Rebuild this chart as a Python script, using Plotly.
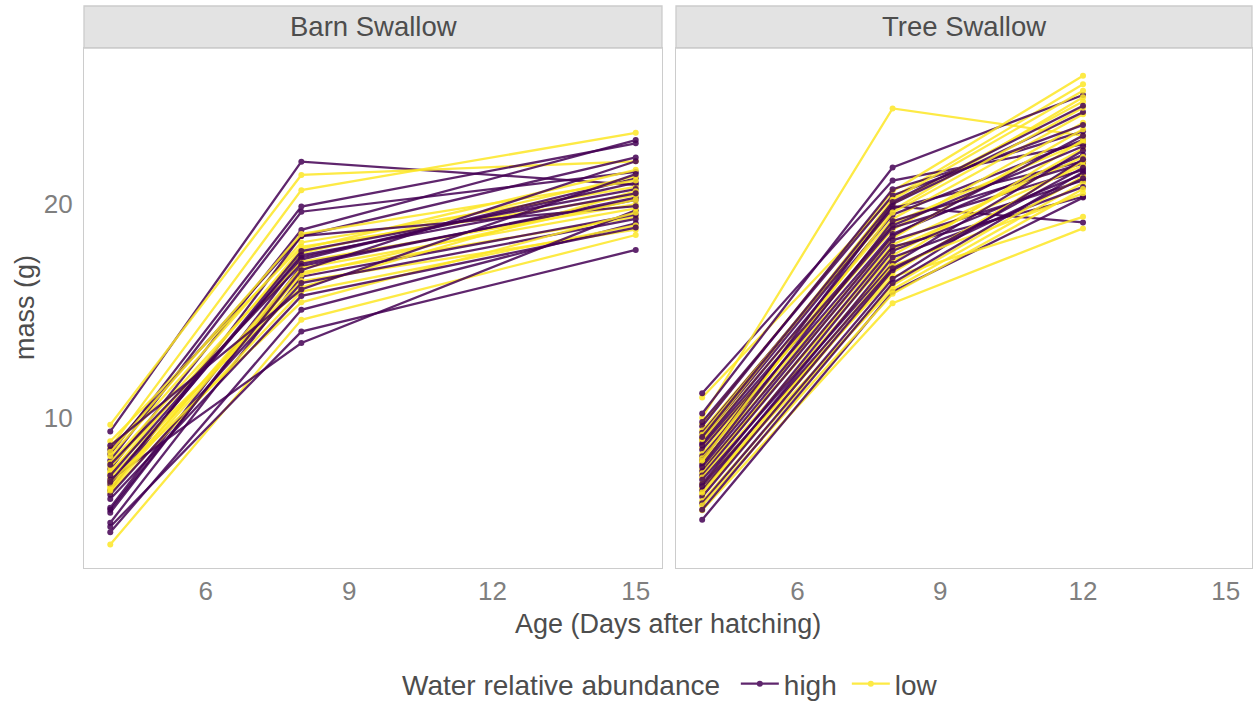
import plotly.graph_objects as go

# ---------------- data ----------------
barn_ages = [4, 8, 15]
tree_ages = [4, 8, 12]

# Barn Swallow, high water abundance (mass at day 4, 8, 15)
barn_high_d4 = [9.36, 8.3, 8.0, 7.6, 6.6, 5.79, 5.56, 5.09, 4.64, 4.9, 7.1, 6.9, 7.3, 8.5, 6.4, 7.8, 8.7, 6.2, 7.0, 5.7]
barn_high_d8 = [21.98, 19.88, 19.64, 18.79, 18.5, 17.4, 17.1, 16.6, 15.05, 14.03, 13.5, 17.8, 17.5, 18.5, 16.3, 17.2, 16.0, 15.7, 17.6, 16.9]
barn_high_d15 = [20.9, 22.84, 21.5, 22.99, 22.18, 21.2, 20.3, 19.5, 19.1, 17.85, 19.7, 20.7, 21.0, 19.9, 19.3, 20.2, 21.4, 18.9, 20.5, 22.0]

# Barn Swallow, low water abundance
barn_low_d4 = [9.67, 8.6, 4.07, 8.2, 7.4, 7.7, 6.8, 7.2, 8.9, 6.5, 7.9, 7.5, 6.7, 8.4, 7.0, 6.6]
barn_low_d8 = [21.36, 20.65, 14.58, 18.2, 17.9, 17.3, 16.8, 16.4, 18.0, 15.9, 17.7, 16.1, 17.0, 18.6, 15.4, 16.7]
barn_low_d15 = [22.0, 23.33, 18.55, 20.8, 21.6, 20.0, 19.4, 18.8, 20.4, 19.0, 21.3, 20.6, 19.8, 21.1, 19.6, 20.2]

# Tree Swallow, high water abundance (mass at day 4, 8, 12)
tree_high_d4 = [11.15, 10.2, 5.23, 9.6, 9.3, 9.0, 8.8, 8.5, 8.2, 8.0, 7.8, 7.5, 7.3, 7.1, 6.9, 6.6, 6.3, 6.0, 9.8, 8.7, 7.7, 6.8, 5.7, 9.1]
tree_high_d8 = [21.1, 21.71, 15.9, 20.69, 19.9, 19.8, 19.5, 18.9, 18.6, 20.0, 19.2, 18.3, 18.0, 17.2, 17.8, 17.5, 16.9, 16.5, 20.4, 19.0, 18.5, 17.0, 16.3, 20.1]
tree_high_d12 = [22.8, 25.1, 20.3, 23.4, 19.14, 22.0, 23.0, 21.6, 22.3, 24.3, 21.9, 21.1, 20.34, 22.5, 21.4, 20.8, 21.7, 22.1, 23.7, 22.7, 23.2, 21.2, 21.5, 24.6]

# Tree Swallow, low water abundance
tree_low_d4 = [10.95, 10.0, 5.67, 9.7, 9.4, 9.2, 8.9, 8.6, 8.3, 8.1, 7.9, 7.6, 7.4, 7.2, 6.9, 6.7, 6.4, 6.1, 5.9, 8.0, 9.0, 6.5]
tree_low_d8 = [20.3, 24.47, 15.36, 20.6, 19.7, 20.0, 19.3, 18.8, 19.1, 18.4, 18.1, 17.6, 17.9, 17.3, 16.6, 16.0, 16.8, 16.2, 15.8, 19.6, 20.2, 17.1]
tree_low_d12 = [25.6, 23.2, 18.86, 26.0, 25.0, 24.8, 24.2, 23.8, 22.9, 23.5, 22.2, 22.6, 21.8, 23.0, 19.4, 21.0, 22.0, 21.3, 20.7, 24.5, 25.3, 20.5]

species = ["Barn Swallow", "Tree Swallow"]
groups = ["high", "low"]
colors = {"high": "#440154", "low": "#FDE725"}

# ---------------- figure ----------------
fig = go.Figure()

def add_birds(ages, hi, lo, xaxis, yaxis, show_legend, low_first=False):
    hi_rows = list(zip(*hi))
    lo_rows = list(zip(*lo))
    order = []
    n = max(len(hi_rows), len(lo_rows))
    for i in range(n):
        pair = []
        if i < len(hi_rows):
            pair.append(("high", hi_rows[i]))
        if i < len(lo_rows):
            pair.append(("low", lo_rows[i]))
        if low_first:
            pair.reverse()
        order.extend(pair)
    shown = set()
    for g, vals in order:
        sl = show_legend and g not in shown
        shown.add(g)
        fig.add_trace(go.Scatter(
            x=ages, y=list(vals), mode="lines+markers",
            line=dict(color=colors[g], width=2.3),
            marker=dict(color=colors[g], size=6),
            opacity=0.85,
            name=g, legendgroup=g, showlegend=sl, legendrank=groups.index(g) + 1,
            xaxis=xaxis, yaxis=yaxis,
        ))

add_birds(barn_ages, [barn_high_d4, barn_high_d8, barn_high_d15],
          [barn_low_d4, barn_low_d8, barn_low_d15], "x", "y", True)
add_birds(tree_ages, [tree_high_d4, tree_high_d8, tree_high_d12],
          [tree_low_d4, tree_low_d8, tree_low_d12], "x2", "y2", False, low_first=True)

FONT = "Liberation Sans, Arial, sans-serif"
tick_font = dict(family=FONT, size=26, color="#7F7F7F")
border = "#CCCCCC"

xcommon = dict(range=[3.45, 15.55], tickvals=[6, 9, 12, 15], showgrid=False, zeroline=False,
               showline=True, mirror=True, linecolor=border, linewidth=1.3,
               ticks="", tickfont=tick_font, ticklabelstandoff=0)
ycommon = dict(range=[2.97, 27.3], tickvals=[10, 20], showgrid=False, zeroline=False,
               showline=True, mirror=True, linecolor=border, linewidth=1.3,
               ticks="", tickfont=tick_font)

d1 = 578 / 1168
d2 = 592 / 1168
strip_h = 42 / 520

fig.update_layout(
    width=1260, height=704,
    margin=dict(l=84, r=8, t=48, b=136, autoexpand=False),
    paper_bgcolor="white", plot_bgcolor="white",
    font=dict(family=FONT, color="#4D4D4D"),
    xaxis=dict(domain=[0, d1], **xcommon),
    xaxis2=dict(domain=[d2, 1], anchor="y2", **xcommon),
    yaxis=dict(domain=[0, 1], anchor="x", ticklabelstandoff=5, **ycommon),
    yaxis2=dict(domain=[0, 1], anchor="x2", matches="y", showticklabels=False, **ycommon),
    showlegend=True,
    legend=dict(orientation="h", x=(400 - 84) / 1168, xanchor="left", y=(568 - 684) / 520, yanchor="middle",
                font=dict(family=FONT, size=28, color="#4D4D4D"),
                title=dict(text="Water relative abundance ", font=dict(family=FONT, size=28, color="#4D4D4D")),
                itemwidth=38, entrywidth=58),
)

# strips
for x0, x1, label in [(0, d1, species[0]), (d2, 1, species[1])]:
    fig.add_shape(type="rect", xref="paper", yref="paper", x0=x0, x1=x1, y0=1, y1=1 + strip_h,
                  fillcolor="#E3E3E3", line=dict(color=border, width=1.3), layer="below")
    fig.add_annotation(text=label, xref="paper", yref="paper", x=(x0 + x1) / 2, y=1 + strip_h / 2,
                       showarrow=False, xanchor="center", yanchor="middle",
                       font=dict(family=FONT, size=27.5, color="#4D4D4D"))

# axis titles
fig.add_annotation(text="Age (Days after hatching)", xref="paper", yref="paper", x=0.5, y=(568 - 624) / 520,
                   showarrow=False, xanchor="center", yanchor="middle",
                   font=dict(family=FONT, size=27, color="#4D4D4D"))
fig.add_annotation(text="mass (g)", xref="paper", yref="paper", x=-(84 - 25) / 1168, y=0.5,
                   showarrow=False, xanchor="center", yanchor="middle", textangle=-90,
                   font=dict(family=FONT, size=27, color="#4D4D4D"))

fig.write_html("out.html")
